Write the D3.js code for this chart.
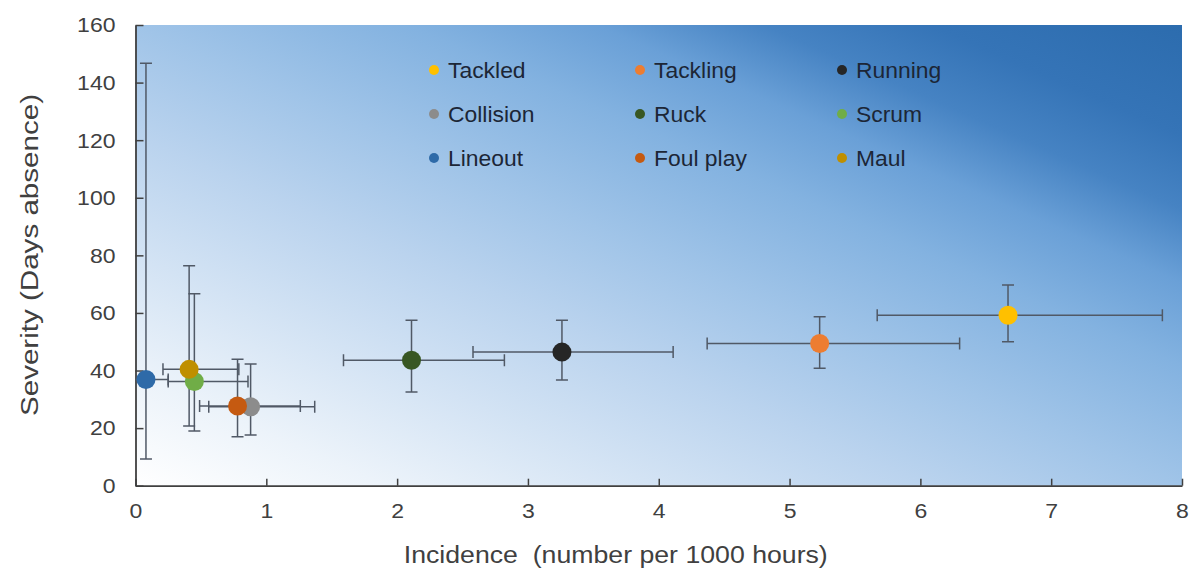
<!DOCTYPE html>
<html>
<head>
<meta charset="utf-8">
<script src="https://cdn.jsdelivr.net/npm/d3@7"></script>
<style>
  html, body { margin: 0; padding: 0; background: #ffffff; }
  svg { display: block; font-family: "Liberation Sans", Arial, sans-serif; }
</style>
</head>
<body>
<svg id="chart" width="1196" height="578"></svg>
<script>
// Injury mechanisms: incidence vs severity, with error ranges
const categories = ["Tackled", "Tackling", "Running", "Collision", "Ruck", "Scrum", "Lineout", "Foul play", "Maul"];
const colors     = ["#ffc000", "#ed7d31", "#262626", "#8c8c8c", "#385723", "#70ad47", "#2e6aa8", "#c55a11", "#bf8f00"];
const incidence  = [6.67, 5.23, 3.26, 0.88, 2.11, 0.45, 0.08, 0.78, 0.41];
const severity   = [59.2, 49.4, 46.4, 27.4, 43.6, 36.2, 36.9, 27.7, 40.4];
const incLow     = [5.67, 4.37, 2.58, 0.56, 1.59, 0.25, -0.09, 0.49, 0.21];
const incHigh    = [7.85, 6.30, 4.11, 1.37, 2.82, 0.86, 0.25, 1.26, 0.79];
const sevLow     = [50.0, 40.8, 36.7, 17.6, 32.5, 19.0, 9.3, 17.0, 20.7];
const sevHigh    = [69.7, 58.7, 57.5, 42.3, 57.5, 66.7, 146.7, 43.9, 76.4];
const xTicks     = [0, 1, 2, 3, 4, 5, 6, 7, 8];
const yTicks     = [0, 20, 40, 60, 80, 100, 120, 140, 160];
const xTitle = "Incidence\u00a0\u00a0(number per 1000 hours)";
const yTitle = "Severity (Days absence)";

const svg = d3.select("#chart");
const plot = { left: 135.5, right: 1182, top: 25, bottom: 485.7 };
const W = plot.right - plot.left, H = plot.bottom - plot.top;

const x = d3.scaleLinear().domain([0, 8]).range([plot.left, plot.right]);
const y = d3.scaleLinear().domain([0, 160]).range([plot.bottom, plot.top]);

// widen glyphs horizontally by a factor, keeping the anchor
function stretch(sel, factor) {
  sel.each(function () {
    const len = this.getComputedTextLength();
    d3.select(this).attr("textLength", len * factor).attr("lengthAdjust", "spacingAndGlyphs");
  });
}

// background: light at lower left, deep blue towards upper right
const defs = svg.append("defs");
const grad = defs.append("linearGradient").attr("id", "bg")
  .attr("x1", 0).attr("y1", 1).attr("x2", 1).attr("y2", 0);
[[0, "#ffffff"], [0.12, "#ecf3fa"], [0.25, "#d3e3f4"], [0.38, "#bad3ee"], [0.5, "#a0c4e8"],
 [0.63, "#83b2e0"], [0.72, "#6aa0d7"], [0.8, "#4683c3"], [0.88, "#3574b7"], [1, "#2c6cae"]]
  .forEach(([o, c]) => grad.append("stop").attr("offset", o).attr("stop-color", c));

defs.append("clipPath").attr("id", "clip").append("rect")
  .attr("x", plot.left).attr("y", plot.top).attr("width", W).attr("height", H);

svg.append("rect")
  .attr("x", plot.left).attr("y", plot.top).attr("width", W).attr("height", H)
  .attr("fill", "url(#bg)");

// axes
const xAxis = d3.axisBottom(x).tickValues(xTicks).tickSizeInner(-7).tickSizeOuter(0).tickPadding(18).tickFormat(d3.format("d"));
const yAxis = d3.axisLeft(y).tickValues(yTicks).tickSizeInner(-8).tickSizeOuter(0).tickPadding(20).tickFormat(d3.format("d"));

const gx = svg.append("g").attr("transform", `translate(0,${plot.bottom})`).call(xAxis);
const gy = svg.append("g").attr("transform", `translate(${plot.left},0)`).call(yAxis);
[gx, gy].forEach(g => {
  g.select(".domain").attr("stroke", "#404040").attr("stroke-width", 1.8);
  g.selectAll(".tick line").attr("stroke", "#404040").attr("stroke-width", 1.5);
  g.selectAll(".tick text").attr("fill", "#404040").attr("font-size", 19.5)
    .attr("font-family", "Liberation Sans, Arial, sans-serif");
});
gx.selectAll(".tick text").attr("dy", "0.71em");
gy.selectAll(".tick text").attr("dy", "0.35em");
stretch(gx.selectAll(".tick text"), 1.18);
stretch(gy.selectAll(".tick text"), 1.18);

// axis titles
svg.append("text").attr("x", (plot.left + plot.right) / 2 - 43).attr("y", 563)
  .attr("text-anchor", "middle").attr("font-size", 23).attr("fill", "#404040")
  .text(xTitle).attr("textLength", 424).attr("lengthAdjust", "spacingAndGlyphs");
svg.append("text").attr("transform", "translate(38,255) rotate(-90)")
  .attr("text-anchor", "middle").attr("font-size", 23.5).attr("fill", "#404040")
  .text(yTitle).attr("textLength", 322).attr("lengthAdjust", "spacingAndGlyphs");

// data rows
const rows = categories.map((c, i) => ({
  name: c, color: colors[i], x: incidence[i], y: severity[i],
  x0: incLow[i], x1: incHigh[i], y0: sevLow[i], y1: sevHigh[i]
}));

const errG = svg.append("g").attr("clip-path", "url(#clip)")
  .attr("stroke", "#505966").attr("stroke-width", 1.5).attr("fill", "none");
const cap = 6;
rows.forEach(d => {
  const g = errG.append("g");
  // horizontal range
  g.append("line").attr("x1", x(d.x0)).attr("x2", x(d.x1)).attr("y1", y(d.y)).attr("y2", y(d.y));
  g.append("line").attr("x1", x(d.x0)).attr("x2", x(d.x0)).attr("y1", y(d.y) - cap).attr("y2", y(d.y) + cap);
  g.append("line").attr("x1", x(d.x1)).attr("x2", x(d.x1)).attr("y1", y(d.y) - cap).attr("y2", y(d.y) + cap);
  // vertical range
  g.append("line").attr("x1", x(d.x)).attr("x2", x(d.x)).attr("y1", y(d.y0)).attr("y2", y(d.y1));
  g.append("line").attr("x1", x(d.x) - cap).attr("x2", x(d.x) + cap).attr("y1", y(d.y0)).attr("y2", y(d.y0));
  g.append("line").attr("x1", x(d.x) - cap).attr("x2", x(d.x) + cap).attr("y1", y(d.y1)).attr("y2", y(d.y1));
});

svg.append("g").attr("clip-path", "url(#clip)")
  .selectAll("circle").data(rows).join("circle")
  .attr("cx", d => x(d.x)).attr("cy", d => y(d.y)).attr("r", 9.5)
  .attr("fill", d => d.color);

// legend: three columns by three rows
const legX = [434, 640, 842];
const legY = [70, 114, 158];
const leg = svg.append("g");
rows.forEach((d, i) => {
  const lx = legX[i % 3], ly = legY[Math.floor(i / 3)];
  leg.append("circle").attr("cx", lx).attr("cy", ly).attr("r", 5).attr("fill", d.color);
  leg.append("text").attr("x", lx + 14).attr("y", ly + 7.5)
    .attr("font-size", 22).attr("fill", "#1c2636").text(d.name);
});
stretch(leg.selectAll("text"), 1.04);
</script>
</body>
</html>
